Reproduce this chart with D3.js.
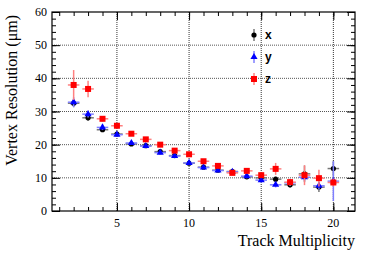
<!DOCTYPE html>
<html>
<head>
<meta charset="utf-8">
<script src="https://cdn.jsdelivr.net/npm/d3@7"></script>
<style>
  body { margin: 0; background: #fff; }
  svg { display: block; }
</style>
</head>
<body>
<svg id="chart" width="374" height="253"></svg>
<script>
(function () {
    'use strict';

    // track multiplicity bins
    let mult = [2, 3, 4, 5, 6, 7, 8, 9, 10, 11, 12, 13, 14, 15, 16, 17, 18, 19, 20];

    // resolution (um) and errors
    let resX = [32.5, 28.1, 24.5, 23.2, 20.2, 19.7, 17.9, 16.7, 14.4, 13.2, 12.3, 11.9, 10.3, 10.0, 9.6, 7.9, 11.2, 7.2, 12.8];
    let errX = [1.2, 0.9, 0.7, 0.6, 0.6, 0.5, 0.5, 0.5, 0.5, 0.5, 0.5, 0.5, 0.6, 0.6, 0.7, 0.8, 2.5, 1.5, 2.2];
    let resY = [32.8, 29.2, 25.2, 23.0, 20.5, 19.6, 17.6, 16.6, 14.5, 13.1, 12.2, 11.8, 10.5, 9.3, 7.9, 8.5, 10.2, 7.6, 9.0];
    let errY = [1.5, 1.0, 0.8, 0.6, 0.6, 0.5, 0.5, 0.5, 0.5, 0.5, 0.5, 0.5, 0.6, 0.7, 0.8, 0.9, 1.2, 1.2, 6.0];
    let resZ = [38.0, 36.8, 27.8, 25.7, 23.3, 21.6, 20.0, 18.2, 17.1, 15.0, 13.6, 11.5, 12.1, 10.8, 12.7, 8.7, 10.8, 9.9, 8.6];
    let errZ = [4.5, 2.5, 0.8, 0.7, 0.6, 0.6, 0.5, 0.5, 0.5, 0.5, 0.6, 0.6, 0.7, 0.8, 1.8, 1.0, 3.0, 2.5, 1.2];

    let seriesNames = ['x', 'y', 'z'];
    let seriesColor = ['#000000', '#0000ff', '#ff0000'];
    let errColor = ['#777777', '#7f7fff', '#ff8080'];

    let xTicks = [5, 10, 15, 20];
    let yTicks = [0, 10, 20, 30, 40, 50, 60];

    let margin = { left: 52, right: 19, top: 12, bottom: 42 };
    let width = 374, height = 253;

    let svg = d3.select('#chart');

    let xScale = d3.scaleLinear()
        .domain([0.5, 21.5])
        .range([margin.left, width - margin.right]);
    let yScale = d3.scaleLinear()
        .domain([0, 60])
        .range([height - margin.bottom, margin.top]);

    let x0 = xScale.range()[0], x1 = xScale.range()[1];
    let y0 = yScale.range()[0], y1 = yScale.range()[1];

    // grid
    let grid = svg.append('g');
    grid.selectAll('line.gx')
        .data(xTicks)
        .enter()
        .append('line')
        .attr('x1', function (d) { return xScale(d); })
        .attr('x2', function (d) { return xScale(d); })
        .attr('y1', y0)
        .attr('y2', y1)
        .style('stroke', '#333')
        .style('stroke-width', 1)
        .style('stroke-dasharray', '1,1');
    grid.selectAll('line.gy')
        .data(yTicks.slice(1, -1))
        .enter()
        .append('line')
        .attr('x1', x0)
        .attr('x2', x1)
        .attr('y1', function (d) { return yScale(d); })
        .attr('y2', function (d) { return yScale(d); })
        .style('stroke', '#555')
        .style('stroke-width', 1)
        .style('stroke-dasharray', '1,1');

    // axes with ticks pointing inward
    let xMinor = d3.range(1, 22);
    let yMinor = d3.range(0, 61, 2);

    function addAxis(axis, transform) {
        let g = svg.append('g')
            .attr('transform', transform)
            .call(axis);
        g.select('.domain').remove();
        g.selectAll('line').style('stroke', '#000');
        return g;
    }

    addAxis(d3.axisBottom(xScale).tickValues(xMinor).tickSize(-4).tickFormat(''),
        'translate(0,' + y0 + ')');
    addAxis(d3.axisBottom(xScale).tickValues(xTicks).tickSize(-8).tickFormat(''),
        'translate(0,' + y0 + ')');
    addAxis(d3.axisTop(xScale).tickValues(xMinor).tickSize(-4).tickFormat(''),
        'translate(0,' + y1 + ')');
    addAxis(d3.axisTop(xScale).tickValues(xTicks).tickSize(-8).tickFormat(''),
        'translate(0,' + y1 + ')');
    addAxis(d3.axisLeft(yScale).tickValues(yMinor).tickSize(-4).tickFormat(''),
        'translate(' + x0 + ',0)');
    addAxis(d3.axisLeft(yScale).tickValues(yTicks).tickSize(-8).tickFormat(''),
        'translate(' + x0 + ',0)');
    addAxis(d3.axisRight(yScale).tickValues(yMinor).tickSize(-4).tickFormat(''),
        'translate(' + x1 + ',0)');
    addAxis(d3.axisRight(yScale).tickValues(yTicks).tickSize(-8).tickFormat(''),
        'translate(' + x1 + ',0)');

    // tick labels
    svg.append('g')
        .selectAll('text')
        .data(xTicks)
        .enter()
        .append('text')
        .attr('x', function (d) { return xScale(d); })
        .attr('y', y0 + 16)
        .attr('text-anchor', 'middle')
        .style('font-family', '"Liberation Serif", "Times New Roman", serif')
        .style('font-size', '12px')
        .text(function (d) { return d; });
    svg.append('g')
        .selectAll('text')
        .data(yTicks)
        .enter()
        .append('text')
        .attr('x', x0 - 5)
        .attr('y', function (d) { return yScale(d) + 4; })
        .attr('text-anchor', 'end')
        .style('font-family', '"Liberation Serif", "Times New Roman", serif')
        .style('font-size', '12px')
        .text(function (d) { return d; });

    // frame
    svg.append('rect')
        .attr('x', x0)
        .attr('y', y1)
        .attr('width', x1 - x0)
        .attr('height', y0 - y1)
        .style('fill', 'none')
        .style('stroke', '#000')
        .style('stroke-width', 1.2);

    // axis titles
    svg.append('text')
        .attr('x', x1)
        .attr('y', 246)
        .attr('text-anchor', 'end')
        .style('font-family', '"Liberation Serif", "Times New Roman", serif')
        .style('font-size', '16px')
        .text('Track Multiplicity');
    svg.append('text')
        .attr('transform', 'translate(17,' + (y1 + 3) + ') rotate(-90)')
        .attr('text-anchor', 'end')
        .style('font-family', '"Liberation Serif", "Times New Roman", serif')
        .style('font-size', '16px')
        .text('Vertex Resolution (\u03bcm)');

    // data
    let allRes = [resX, resY, resZ];
    let allErr = [errX, errY, errZ];
    let halfBin = 0.4;

    function drawMarker(g, k, cx, cy) {
        if (k === 0) {
            g.append('circle').attr('cx', cx).attr('cy', cy).attr('r', 2.6)
                .style('fill', seriesColor[k]);
        } else if (k === 1) {
            g.append('path')
                .attr('d', d3.symbol().type(d3.symbolTriangle).size(22)())
                .attr('transform', 'translate(' + cx + ',' + cy + ')')
                .style('fill', seriesColor[k]);
        } else {
            g.append('rect').attr('x', cx - 3).attr('y', cy - 3)
                .attr('width', 6).attr('height', 6)
                .style('fill', seriesColor[k]);
        }
    }

    for (let k = 0; k < 3; k++) {
        let g = svg.append('g');
        let res = allRes[k], err = allErr[k];
        for (let i = 0; i < mult.length; i++) {
            let cx = xScale(mult[i]), cy = yScale(res[i]);
            g.append('line')
                .attr('x1', xScale(mult[i] - halfBin)).attr('x2', xScale(mult[i] + halfBin))
                .attr('y1', cy).attr('y2', cy)
                .style('stroke', errColor[k]).style('stroke-width', 1.5);
            g.append('line')
                .attr('x1', cx).attr('x2', cx)
                .attr('y1', yScale(res[i] - err[i])).attr('y2', yScale(res[i] + err[i]))
                .style('stroke', errColor[k]).style('stroke-width', 1.5);
            drawMarker(g, k, cx, cy);
        }
    }

    // legend
    let legend = svg.append('g');
    let legendY = [35, 57, 79];
    for (let k = 0; k < 3; k++) {
        let lx = 254, ly = legendY[k];
        legend.append('line')
            .attr('x1', lx).attr('x2', lx)
            .attr('y1', ly - 6).attr('y2', ly + 6)
            .style('stroke', errColor[k]).style('stroke-width', 1.5);
        drawMarker(legend, k, lx, ly);
        legend.append('text')
            .attr('x', 265)
            .attr('y', ly + 4)
            .style('font-family', '"Liberation Sans", Arial, sans-serif')
            .style('font-weight', 'bold')
            .style('font-size', '12px')
            .text(seriesNames[k]);
    }
})();
</script>
</body>
</html>
